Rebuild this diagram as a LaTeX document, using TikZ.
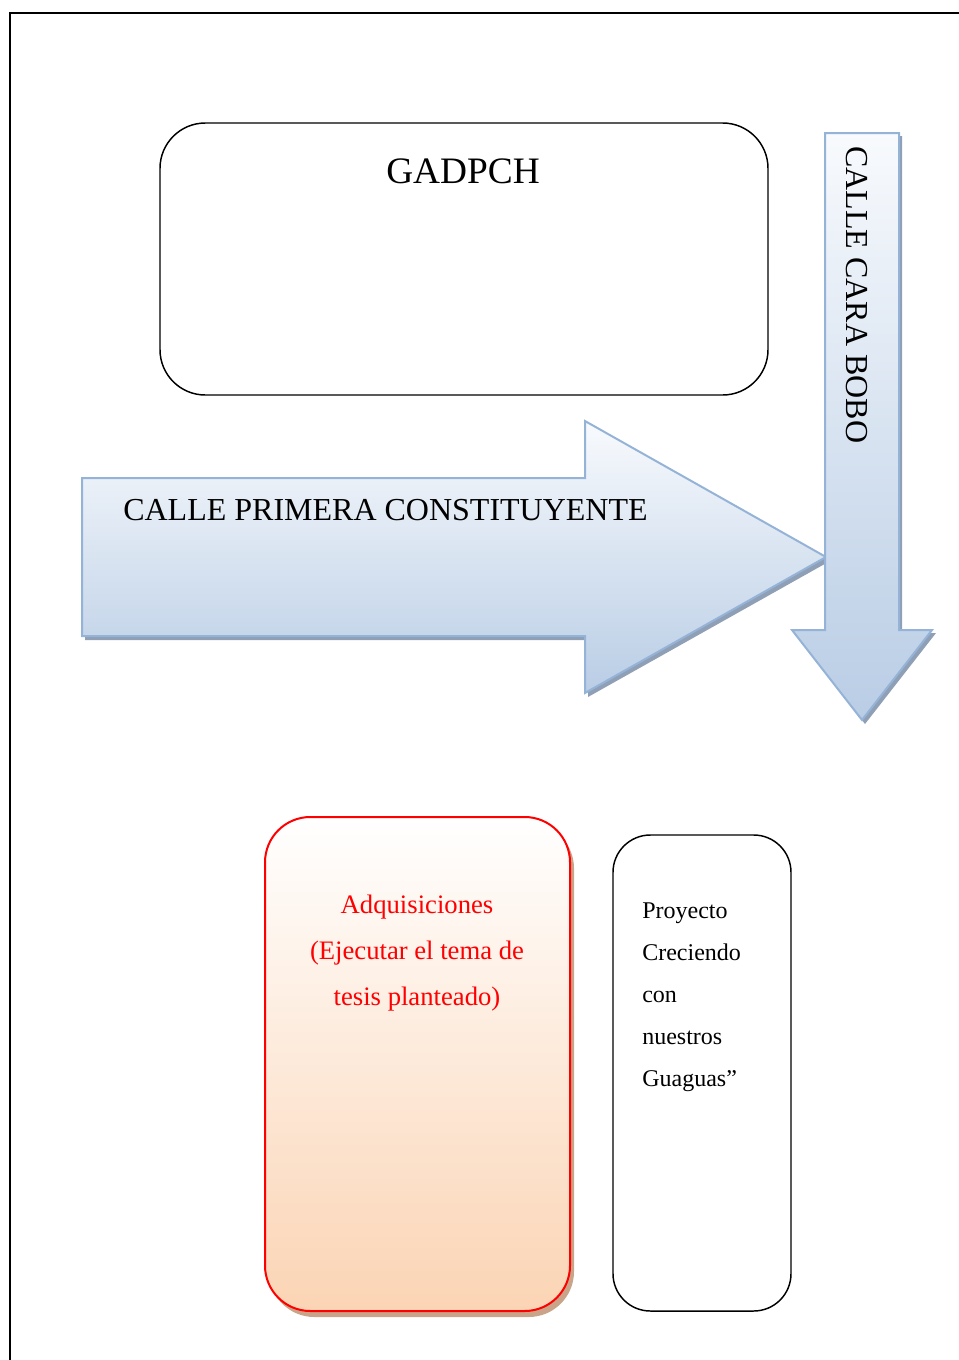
\documentclass[tikz,border=0pt]{standalone}
\usepackage{xcolor}
\usepackage{fontspec}
\setmainfont{Liberation Serif}
\usepackage{tikz}

\definecolor{arrowline}{HTML}{95B3D7}
\definecolor{arrowtop}{HTML}{F8FAFD}
\definecolor{arrowbot}{HTML}{B9CDE5}
\definecolor{arrowshade}{HTML}{8E9FB6}
\definecolor{peach}{HTML}{FBD4B4}
\definecolor{peachshade}{HTML}{C9A488}

\tikzset{
  streetarrow/.style={draw=arrowline, line width=1.5pt, line join=miter, top color=arrowtop, bottom color=arrowbot},
  streetshadow/.style={fill=arrowshade, draw=none},
  officebox/.style={line width=1.1pt, rounded corners=#1},
  roadlabel/.style={inner sep=0pt, font=\fontsize{24}{28}\selectfont}
}

\begin{document}
\begin{tikzpicture}[x=0.75pt,y=0.75pt,yscale=-1,xscale=1]
        \useasboundingbox (0,0) rectangle (959,1360);
        % page frame
        \draw [line width=1.4pt] (10,1360) -- (10,13) -- (959,13) ;

        % top box
        \draw [officebox=34pt] (160,123) rectangle (768,395) ;
        \draw (463,183) node (gadpch) [anchor=base][inner sep=0pt] [font=\fontsize{28}{34}\selectfont] {GADPCH};

        % horizontal street
        \fill [streetshadow] (85,482) -- (588,482) -- (588,425) -- (830,561) -- (588,697) -- (588,640) -- (85,640) -- cycle ;
        \draw [streetarrow] (82,478) -- (585,478) -- (585,421) -- (826,557) -- (585,693) -- (585,636) -- (82,636) -- cycle ;
        \draw (123,520) node (primera) [anchor=base west][roadlabel] {CALLE PRIMERA CONSTITUYENTE};

        % vertical street
        \fill [streetshadow] (828,136) -- (902,136) -- (902,633) -- (936,633) -- (865,724) -- (795,633) -- (828,633) -- cycle ;
        \draw [streetarrow] (825,133) -- (899,133) -- (899,630) -- (932,630) -- (862,720) -- (792,630) -- (825,630) -- cycle ;
        \draw (846,146) node (carabobo) [anchor=base west][rotate=-90][roadlabel] {CALLE CARA BOBO};

        % bottom boxes
        \fill [peachshade, rounded corners=34pt] (269,823) rectangle (574,1317) ;
        \draw [officebox=34pt, draw=red, line width=1.5pt, top color=white, bottom color=peach] (265,817) rectangle (570,1311) ;
        \draw (417,895) node (adquisiciones) [anchor=north][inner sep=0pt] [align=center, text=red, font=\fontsize{20}{34.5}\selectfont] {Adquisiciones\\(Ejecutar el tema de\\tesis planteado)};

        \draw [officebox=28pt] (613,835) rectangle (791,1311) ;
        \draw (642,903) node (proyecto) [anchor=north west][inner sep=0pt] [align=left, font=\fontsize{18}{31.5}\selectfont] {Proyecto\\Creciendo\\con\\nuestros\\Guaguas”};
    \end{tikzpicture}
\end{document}
